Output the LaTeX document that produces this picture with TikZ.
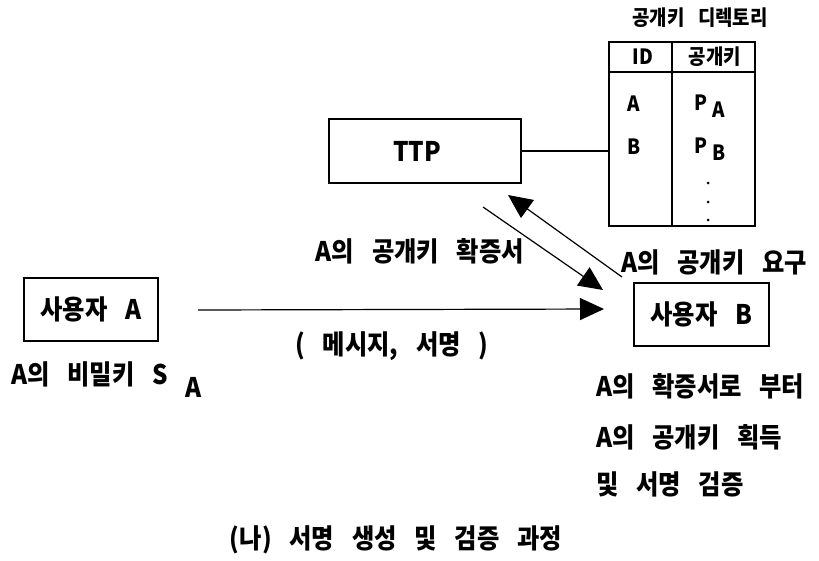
\documentclass[tikz,border=0pt]{standalone}
\usepackage{fontspec}
\setmainfont{Noto Sans CJK KR}[WordSpace=3.2,FakeStretch=0.9]
\usetikzlibrary{arrows.meta}
\begin{document}
\begin{tikzpicture}[x=1pt,y=-1pt,
  big/.style={font=\fontsize{27}{30}\selectfont\bfseries},
  small/.style={font=\fontsize{21}{24}\selectfont\bfseries},
  box/.style={draw,line width=1.2pt,rectangle,inner sep=0pt,big},
  conn/.style={line width=1.2pt},
  dot/.style={circle,fill,inner sep=0pt,minimum size=3pt},
  arr/.style={line width=1.2pt,-{Triangle[length=24pt,width=22pt]}}]
\useasboundingbox (0,0) rectangle (819,560);
% boxes
\node[box,minimum width=134pt,minimum height=63pt] (A) at (91,309.5) {\raisebox{-9pt}{사용자 A}};
\node[box,minimum width=135pt,minimum height=63pt] (B) at (701.5,314.5) {사용자 B};
\node[box,minimum width=192pt,minimum height=64pt] (ttp) at (425,151) {\hspace*{-16pt}TTP};
% directory table
\node[draw,line width=1.2pt,minimum width=146pt,minimum height=184pt,inner sep=0pt] (dir) at (682,134) {};
\node[small] (dirtitle) at (700,18) {공개키 디렉토리};
\coordinate (hl) at (609,72);
\coordinate (vl) at (672,42);
\draw[line width=1.2pt] (hl) -- (hl -| dir.east);
\draw[line width=1.2pt] (vl) -- (vl |- dir.south);
\node[small] (hid) at (643,57) {ID};
\node[small] (hkey) at (715,57) {공개키};
\node[small] (rA) at (634,104) {A};
\node[small] (rB) at (634,147) {B};
\node[small,anchor=west,inner sep=0pt] (pA) at (694,106) {P\hspace{5pt}\raisebox{-7pt}{A}};
\node[small,anchor=west,inner sep=0pt] (pB) at (694,149) {P\hspace{5pt}\raisebox{-7pt}{B}};
\node[dot] (d1) at (708,183) {};
\node[dot] (d2) at (708,202) {};
\node[dot] (d3) at (708,220) {};
\draw[conn] (ttp.east) -- (ttp.east -| dir.west);
% arrows
\coordinate (t1) at (483,207);
\coordinate (h1) at (603,290);
\coordinate (t2) at (622,277);
\coordinate (h2) at (508,195);
\coordinate (t3) at (198,310);
\coordinate (h3) at (604,309);
\draw[arr] (t1) -- (h1);
\draw[arr] (t2) -- (h2);
\draw[arr] (t3) -- (h3);
% labels
\node[big] (lcert) at (420,251) {A의 공개키 확증서};
\node[big,anchor=west,inner sep=0pt] (lreq) at (621,262) {A의 공개키 요구};
\node[big] (lmsg) at (392,346) {( 메시지, 서명 )};
\node[big,anchor=west,inner sep=0pt] (lsec) at (11,380) {A의 비밀키 S\hspace{18pt}\raisebox{-13pt}{A}};
\node[big,anchor=west,inner sep=0pt] (lb1) at (596,386) {A의 확증서로 부터};
\node[big,anchor=west,inner sep=0pt] (lb2) at (596,437) {A의 공개키 획득};
\node[big,anchor=west,inner sep=0pt] (lb3) at (596,484) {및 서명 검증};
\node[big] (cap) at (396,540) {(나) 서명 생성 및 검증 과정};
\end{tikzpicture}
\end{document}
